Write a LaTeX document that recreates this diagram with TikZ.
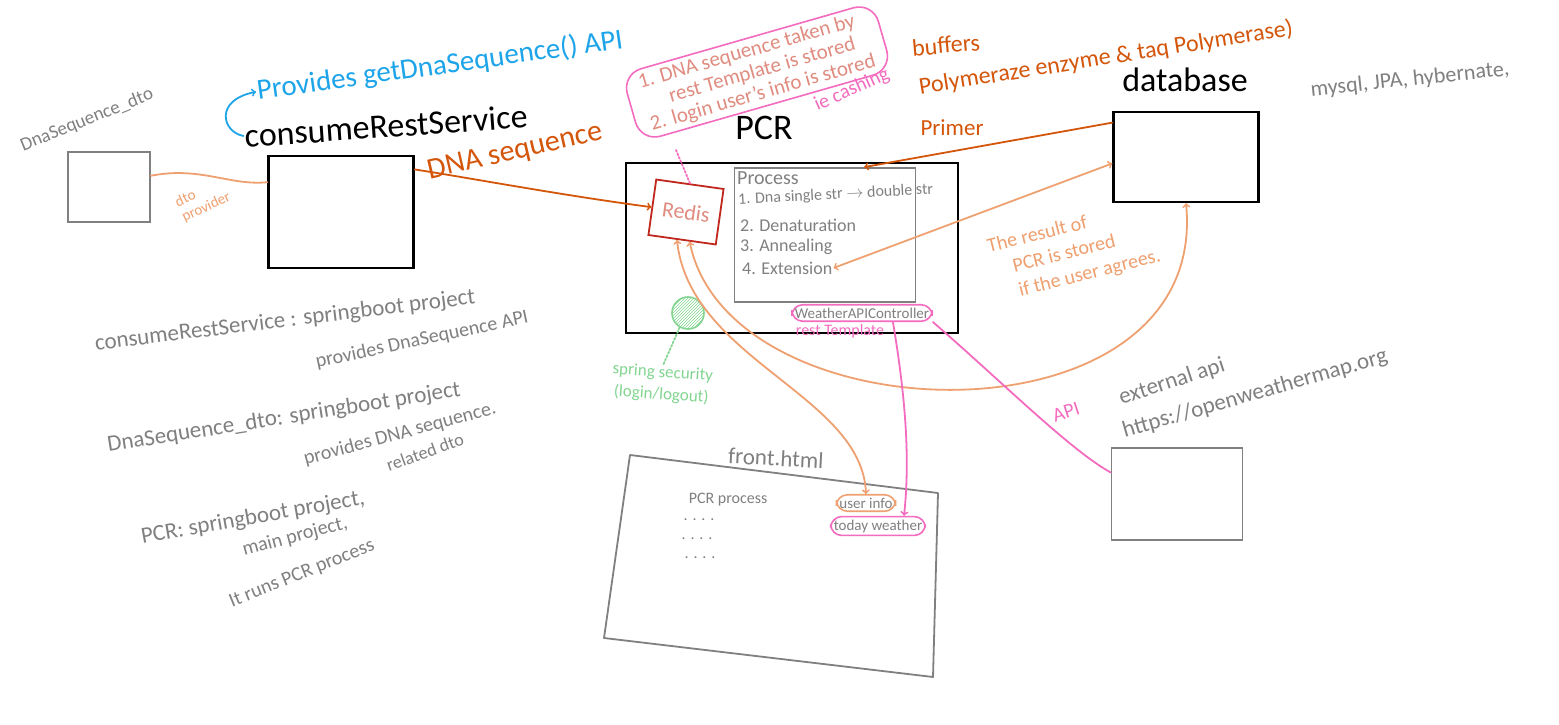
\documentclass[tikz,border=0pt]{standalone}
\usepackage{fontspec}
\setmainfont{Carlito}
\usepackage{tikz}
\usetikzlibrary{arrows,patterns}

\definecolor{pen}{HTML}{808080}
\definecolor{sky}{HTML}{1EA5E9}
\definecolor{rust}{HTML}{D4560B}
\definecolor{peach}{HTML}{EFA070}
\definecolor{rose}{HTML}{F36CBF}
\definecolor{brick}{HTML}{C0271D}
\definecolor{salmon}{HTML}{E08C80}
\definecolor{mint}{HTML}{83D591}

\newcommand{\sz}[2]{\fontsize{#1}{#2}\selectfont}

\begin{document}
\begin{tikzpicture}
		[x=1pt,y=-1pt,
		 blk/.style= {draw=black,line width=2.4pt,inner sep=0pt},
		 gry/.style= {draw=pen,line width=1.8pt,inner sep=0pt},
		 lbl/.style= {inner sep=1pt,align=left,text=pen},
		 pill/.style= {draw,line width=1.6pt,rounded corners=11,inner sep=3pt},
		 ln/.style= {line width=1.8pt,line cap=round,line join=round}]

		\useasboundingbox[fill=white] (0,0) rectangle (1559,725);

		% DnaSequence_dto
		\node[gry,minimum width=82,minimum height=70] (dto) at (109,187) {}
		;
		\node[lbl,rotate=22] (dtoname) at (87,120) {\sz{19}{22}DnaSequence\_dto}
		;

		% consumeRestService
		\node[blk,minimum width=145,minimum height=112] (crs) at (341,212) {}
		;
		\node[lbl,text=black,rotate=4] (crsname) at (386,126) {\sz{34}{38}consumeRestService}
		;
		\node[lbl,text=sky,rotate=8] (provides) at (440,66) {\sz{29}{32}Provides getDnaSequence() API}
		;
		\draw[ln,sky,->] (crsname.west) .. controls (222,132) and (214,100) .. (provides.west);

		\draw[ln,peach] (dto.15) .. controls (200,166) and (230,186) .. (crs.158);
		\node[lbl,text=peach,rotate=25,font=\sz{15}{16}] (dtoprov) at (203,200) {dto\\provider}
		;

		% PCR
		\node[blk,minimum width=332,minimum height=170] (pcr) at (792,248) {}
		;
		\node[lbl,text=black] (pcrname) at (764,128) {\sz{36}{40}PCR}
		;
		\node[draw=brick,line width=1.8pt,rotate=-8,minimum width=68,minimum height=56,text=salmon] (redis) at (686,212) {\sz{22}{24}Redis}
		;
		\node[gry,minimum width=181,minimum height=134] (proc) at (825,235) {}
		;
		\node[lbl,anchor=west] (proctitle) at (736,178) {\sz{20}{22}Process}
		;
		\node[lbl,anchor=west,rotate=3] (step1) at (737,200) {\sz{16}{18}1. Dna single str $\to$ double str}
		;
		\node[lbl,anchor=west] (step2) at (739,225) {\sz{18}{20}2. Denaturation}
		;
		\node[lbl,anchor=west] (step3) at (739,247) {\sz{18}{20}3. Annealing}
		;
		\node[lbl,anchor=west] (step4) at (741,268) {\sz{18}{20}4. Extension}
		;
		\node[pill,draw=rose,text=pen] (wapi) at (862,313) {\sz{15}{16}WeatherAPIController}
		;
		\node[lbl,text=rose] (resttpl) at (840,331) {\sz{16}{18}rest Template}
		;
		\node[circle,draw=mint,line width=1.6pt,pattern=north east lines,pattern color=mint,minimum size=32] (guard) at (688,313) {}
		;
		\node[lbl,text=mint,align=center,rotate=-4,font=\sz{17}{22}] (seclabel) at (662,384) {spring security\\(login/logout)}
		;
		\draw[ln,mint,dotted] (guard.240) -- (seclabel.north);

		% cache note
		\node[draw=rose,line width=1.6pt,rounded corners=20,rotate=16,text=salmon,align=left,inner xsep=14,inner ysep=4,font=\sz{21}{22}] (memo) at (757,72) {1. DNA sequence taken by\\\quad\ rest Template is stored\\2. login user's info is stored}
		;
		\node[lbl,text=rose,rotate=24] (cache) at (852,90) {\sz{20}{22}ie cashing}
		;
		\coordinate (memofoot) at (676,150);
		\draw[ln,rose,dotted] (memofoot) -- (redis.north);

		\draw[ln,rust,->] (crs.30) .. controls (470,178) and (560,195) .. (redis.west);
		\node[lbl,text=rust,rotate=13] (dnaseq) at (515,152) {\sz{30}{32}DNA sequence}
		;

		% reagents
		\node[lbl,text=rust,rotate=5] (buffers) at (946,45) {\sz{24}{26}buffers}
		;
		\node[lbl,text=rust,rotate=9] (enzyme) at (1106,58) {\sz{24}{26}Polymeraze enzyme \& taq Polymerase)}
		;
		\node[lbl,text=rust] (primer) at (952,128) {\sz{23}{26}Primer}
		;

		% database
		\node[blk,minimum width=145,minimum height=90] (db) at (1186,157) {}
		;
		\node[lbl,text=black] (dbname) at (1185,80) {\sz{34}{38}database}
		;
		\node[lbl,rotate=6] (dbtech) at (1410,80) {\sz{22}{24}mysql, JPA, hybernate,}
		;
		\draw[ln,rust,->] (db.155) -- (proc.60);
		\draw[ln,peach,<->] (step4.east) -- (db.185);
		\node[lbl,text=peach,rotate=14,font=\sz{20}{25}] (result) at (1074,252) {The result of\\\quad PCR is stored\\\quad if the user agrees.}
		;

		% front.html
		\coordinate (f1) at (630,455);
		\coordinate (f2) at (938,493);
		\coordinate (f3) at (933,677);
		\coordinate (f4) at (604,638);
		\draw[ln,pen] (f1) -- (f2) -- (f3) -- (f4) -- cycle;
		\node[lbl,rotate=-3] (fronttitle) at (776,458) {\sz{23}{26}front.html}
		;
		\node[lbl] (pcrproc) at (728,500) {\sz{16}{18}PCR process}
		;
		\node[lbl] (dots1) at (699,520) {\sz{16}{18}. . . .}
		;
		\node[lbl] (dots2) at (697,539) {\sz{16}{18}. . . .}
		;
		\node[lbl] (dots3) at (700,558) {\sz{16}{18}. . . .}
		;
		\node[pill,draw=peach,text=pen] (uinfo) at (866,503) {\sz{15}{16}user info}
		;
		\node[pill,draw=rose,text=pen] (tweather) at (878,526) {\sz{15}{16}today weather}
		;

		\draw[ln,peach,<->] (redis.-100) .. controls (690,360) and (862,395) .. (uinfo.north);
		\draw[ln,peach,<->] (redis.-75) .. controls (730,440) and (1210,450) .. (db.south);
		\draw[ln,rose,->] ([xshift=-40pt]wapi.south east) .. controls (906,400) and (910,460) .. ([xshift=-22pt]tweather.north east);

		% external api
		\node[gry,minimum width=131,minimum height=92] (ext) at (1177,494) {}
		;
		\node[lbl,rotate=18] (extname) at (1172,382) {\sz{23}{26}external api}
		;
		\node[lbl,rotate=16] (exturl) at (1255,394) {\sz{23}{26}https://openweathermap.org}
		;
		\draw[ln,rose] (wapi.south east) .. controls (1000,380) and (1070,450) .. (ext.162);
		\node[lbl,text=rose,rotate=18] (apilabel) at (1066,412) {\sz{20}{22}API}
		;

		% notes
		\node[lbl,rotate=7] (note1a) at (285,321) {\sz{23}{26}consumeRestService : springboot project}
		;
		\node[lbl,rotate=12] (note1b) at (422,340) {\sz{20}{24}provides DnaSequence API}
		;
		\node[lbl,rotate=9] (note2a) at (284,418) {\sz{23}{26}DnaSequence\_dto: springboot project}
		;
		\node[lbl,rotate=15] (note2b) at (400,434) {\sz{20}{24}provides DNA sequence.}
		;
		\node[lbl,rotate=20] (note2c) at (425,452) {\sz{18}{22}related dto}
		;
		\node[lbl,rotate=10] (note3a) at (253,518) {\sz{23}{26}PCR: springboot project,}
		;
		\node[lbl,rotate=15] (note3b) at (295,537) {\sz{20}{24}main project,}
		;
		\node[lbl,rotate=22] (note3c) at (302,574) {\sz{20}{24}It runs PCR process}
		;

	\end{tikzpicture}
\end{document}
